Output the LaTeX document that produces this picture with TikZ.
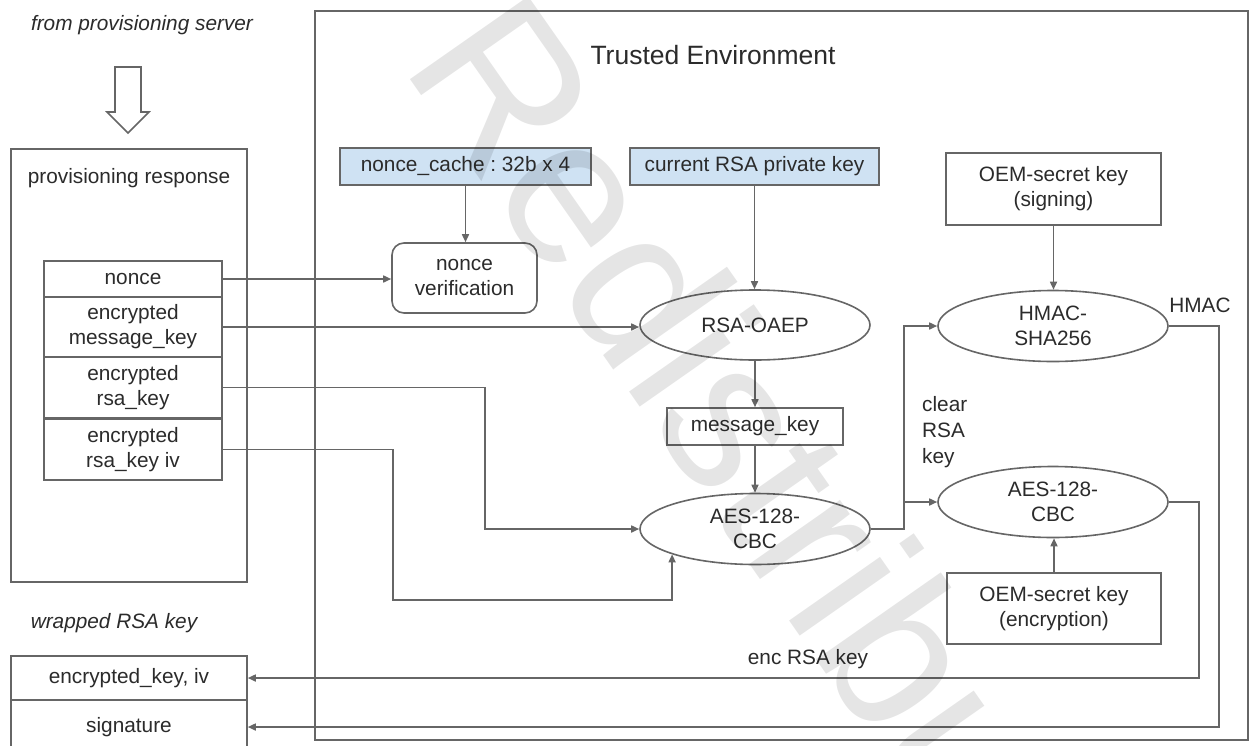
\documentclass[tikz,border=0pt]{standalone}
\usepackage{fontspec}
\setmainfont{Liberation Sans}
\usetikzlibrary{arrows.meta,shapes.geometric}
\definecolor{ln}{HTML}{666666}
\definecolor{tx}{HTML}{2B2B2B}
\definecolor{bluefill}{HTML}{CFE2F3}
\frenchspacing
\tikzset{
  base/.style={font=\fontsize{20.8}{25}\selectfont, text=tx, align=center, inner sep=0pt},
  rbox/.style={base, draw=ln, line width=1.6pt, rectangle},
  bluebox/.style={rbox, fill=bluefill},
  ell/.style={base, draw=ln, line width=1.6pt, ellipse, minimum width=230pt, minimum height=71pt},
  conn/.style={draw=ln, line width=1.6pt},
  arr/.style={conn, -{Triangle[length=8pt,width=7pt]}},
  lbl/.style={base},
  itlbl/.style={base, font=\fontsize{20.8}{25}\selectfont\itshape},
}
\begin{document}
\begin{tikzpicture}[x=1pt,y=-1pt]
\useasboundingbox (0,0) rectangle (1254,745);
\clip (0,0) rectangle (1254,745);
\fill[white] (0,0) rectangle (1254,745);

% left side
\node[itlbl] (fromtxt) at (142,25) {from provisioning server};
\draw[conn] (115,67) -- (141,67) -- (141,112) -- (149,112) -- (128,133) -- (107,112) -- (115,112) -- cycle;
\node[rbox, minimum width=236pt, minimum height=433pt] (prov) at (129,365.5) {};
\node[lbl] (provtxt) at (129,178) {provisioning response};
\node[rbox, minimum width=178pt, minimum height=36pt] (nonce) at (133,279) {nonce};
\node[rbox, minimum width=178pt, minimum height=60pt] (encmsg) at (133,327) {encrypted\\message\_key};
\node[rbox, minimum width=178pt, minimum height=61pt] (encrsa) at (133,387.5) {encrypted\\rsa\_key};
\node[rbox, minimum width=178pt, minimum height=61pt] (enciv) at (133,449.5) {encrypted\\rsa\_key iv};

\node[itlbl] (wraptxt) at (114,623) {wrapped RSA key};
\node[rbox, minimum width=236pt, minimum height=44pt] (enckey) at (129,678) {encrypted\_key, iv};
\node[rbox, minimum width=236pt, minimum height=54pt] (sig) at (129,727) {signature};

% trusted environment
\node[rbox, minimum width=933pt, minimum height=729pt] (trusted) at (781.5,375.5) {};
\node[base, font=\fontsize{26.5}{30}\selectfont] (title) at (713,55) {Trusted Environment};

\node[bluebox, minimum width=251pt, minimum height=37pt] (ncache) at (465.5,166.5) {nonce\_cache : 32b x 4};
\node[rbox, rounded corners=12pt, minimum width=145pt, minimum height=70pt] (nverif) at (464.5,278) {nonce\\verification};
\node[bluebox, minimum width=249pt, minimum height=37pt] (rsakey) at (754.5,166.5) {current RSA private key};
\node[ell, minimum height=70pt] (oaep) at (755,325) {RSA-OAEP};
\node[rbox, minimum width=176pt, minimum height=37pt] (msgkey) at (755,426.5) {message\_key};
\node[ell] (aes1) at (755,529) {AES-128-\\CBC};
\node[ell] (aes2) at (1053,502) {AES-128-\\CBC};
\node[ell] (hmac) at (1053,326) {HMAC-\\SHA256};
\node[rbox, minimum width=215pt, minimum height=72pt] (oemsign) at (1053.5,189) {OEM-secret key\\(signing)};
\node[rbox, minimum width=214pt, minimum height=71pt] (oemenc) at (1054,608.5) {OEM-secret key\\(encryption)};

\node[lbl] (hmaclbl) at (1200,305) {HMAC};
\node[base, align=left, anchor=north west, font=\fontsize{20.8}{26}\selectfont] (clearlbl) at (922,396) {clear\\RSA\\key};
\node[lbl] (enclbl) at (808,659) {enc RSA key};

% connectors
\draw[arr] (nonce.east) -- (nonce.east -| nverif.west);
\draw[arr] (encmsg.east) -- (encmsg.east -| oaep.west);
\draw[arr] (encrsa.east) -| (485,529) -- (aes1.west);
\draw[arr] (enciv.east) -| (393,600) -| (aes1.197.7);
\draw[arr] (ncache.south) -- (ncache.south |- nverif.north);
\draw[arr] (rsakey.south) -- (rsakey.south |- oaep.north);
\draw[arr] (oaep.south) -- (msgkey.north);
\draw[arr] (msgkey.south) -- (aes1.north);
\coordinate (split) at (904,502);
\draw[arr] (aes1.east) -| (split) -- (aes2.west);
\draw[arr] (split) |- (hmac.west);
\draw[arr] (oemsign.south) -- (oemsign.south |- hmac.north);
\draw[arr] (oemenc.north) -- (oemenc.north |- aes2.south);
\draw[arr] (aes2.east) -| (1199,678) -- (enckey.east);
\draw[arr] (hmac.east) -| (1219,727) -- (sig.east);

% watermark
\node[font=\fontsize{210}{210}\selectfont, text=black, text opacity=0.10, rotate=-55, anchor=base west, inner sep=0pt] (wm) at (400,65) {Redistribution};
\end{tikzpicture}
\end{document}
